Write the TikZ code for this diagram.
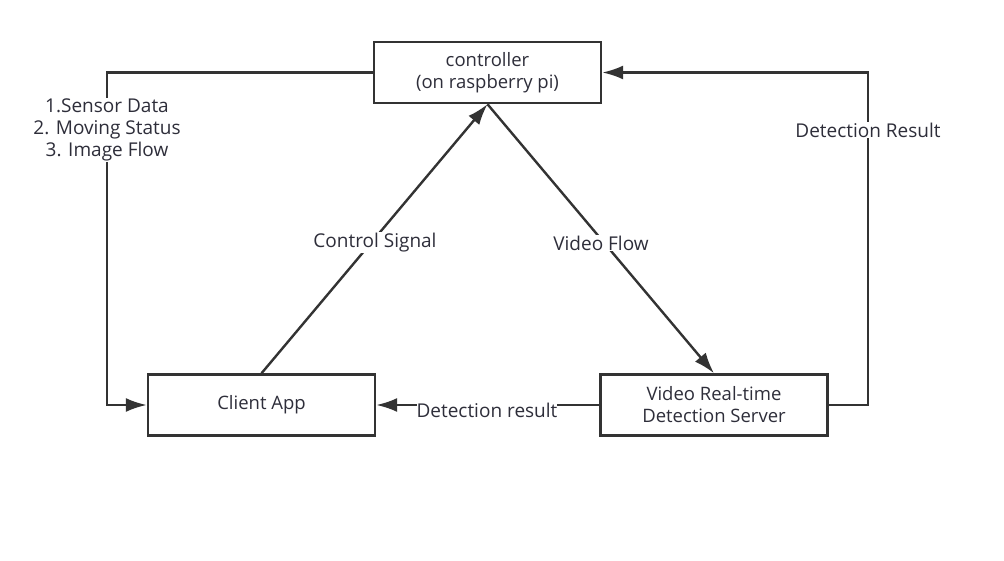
\documentclass[tikz,border=0pt]{standalone}
\usepackage{fontspec}
\setmainfont{Open Sans}
\usetikzlibrary{arrows.meta}
\definecolor{ln}{HTML}{333333}
\definecolor{tx}{HTML}{2E2E3A}
\begin{document}
\begin{tikzpicture}[x=1pt,y=-1pt,
  box/.style={draw=ln,line width=2.4pt,fill=white,minimum width=227pt,minimum height=61pt,inner sep=0pt,align=center,text=tx,font=\fontsize{18.5}{22}\selectfont},
  conn/.style={draw=ln,line width=2.4pt,-{Latex[length=21pt,width=14pt]}},
  lbl/.style={fill=white,inner sep=1pt,align=center,text=tx,font=\fontsize{19}{22}\selectfont}]
\useasboundingbox (0,0) rectangle (1004,561);
\node[box] (ctrl) at (487.5,72.5) {controller\\(on raspberry pi)};
\node[box] (client) at (261.5,405) {Client App};
\node[box] (server) at (714,405) {Video Real-time\\Detection Server};
\coordinate (lt) at (107,72.5);
\coordinate (lb) at (107,405);
\coordinate (rt) at (868,72.5);
\coordinate (rb) at (868,405);
\draw[conn] (ctrl.west) -- (lt) -- (lb) -- (client.west);
\draw[conn] (server.east) -- (rb) -- (rt) -- (ctrl.east);
\draw[conn] (client.north) -- (ctrl.south);
\draw[conn] (ctrl.south) -- (server.north);
\draw[conn] (server.west) -- (client.east);
\node[lbl] (l1) at (107,130) {1.Sensor Data\\2. Moving Status\\3. Image Flow};
\node[lbl] (l2) at (868,130) {Detection Result};
\node[lbl] (l3) at (375,243) {Control Signal};
\node[lbl] (l4) at (601,243) {Video Flow};
\node[lbl,inner xsep=0pt] (l5) at (487,410) {Detection result};
\end{tikzpicture}
\end{document}
